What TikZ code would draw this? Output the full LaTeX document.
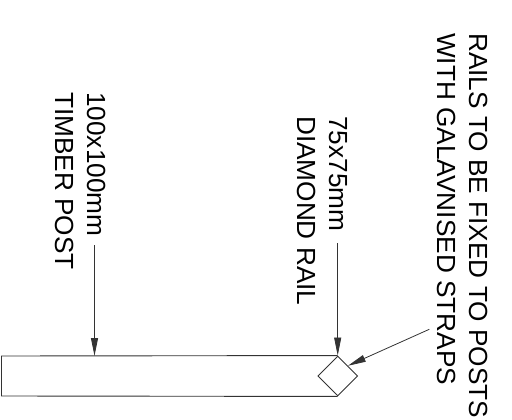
\documentclass[tikz,border=0pt]{standalone}
\usepackage{fontspec}
\setmainfont{Liberation Sans}
\usetikzlibrary{arrows.meta,shapes.geometric}
\tikzset{
    note/.style={rotate=-90, anchor=north west, inner sep=0pt, align=left, font=\fontsize{26.2}{31.5}\selectfont},
    leader/.style={-{Triangle[length=18pt,width=7pt]}, line width=0.8pt, black!80},
    outline/.style={line width=0.9pt, black!80}
}
\begin{document}
\begin{tikzpicture}[x=1pt, y=-1pt]
    \useasboundingbox (0,0) rectangle (512,420);
    \node[note] (postnote) at (105.5,92) {100x100mm\\TIMBER POST};
    \node[note] (railnote) at (347.5,116) {75x75mm\\DIAMOND RAIL};
    \node[note] (strapnote) at (487.5,33) {RAILS TO BE FIXED TO POSTS\\WITH GALAVNISED STRAPS};
    \node[draw, outline, diamond, aspect=1, minimum size=40pt, inner sep=0pt] (rail) at (337.7,376) {};
    \coordinate (posttl) at (1.5,356);
    \coordinate (postbl) at (1.5,396);
    \coordinate (posttop) at (94.5,356);
    \coordinate (poststart) at (94.5,245);
    \coordinate (railstart) at (337.7,243);
    \coordinate (strapstart) at (429.3,329.3);
    \draw[outline] (rail.north) -- (posttl) -- (postbl) -- (rail.south);
    \draw[leader] (poststart) -- (posttop);
    \draw[leader] (railstart) -- (rail.north);
    \draw[leader] (strapstart) -- (rail.north east);
\end{tikzpicture}
\end{document}
